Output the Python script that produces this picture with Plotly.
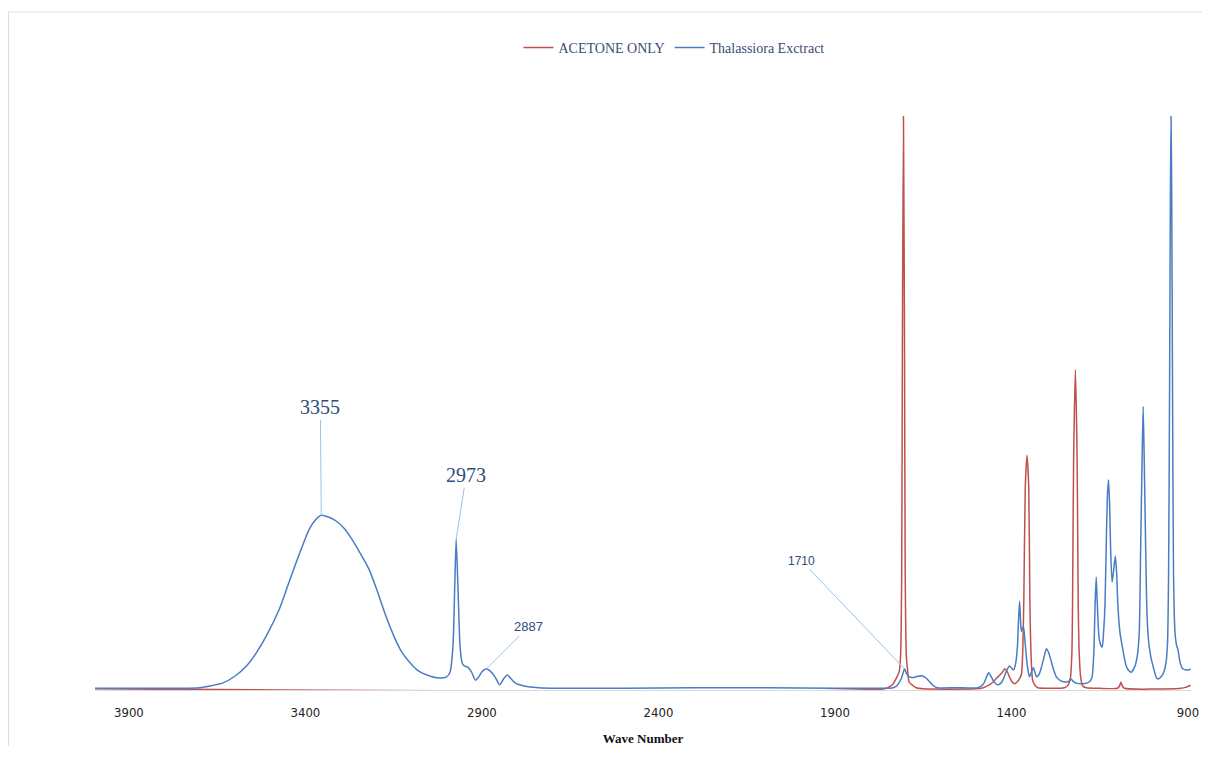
import numpy as np
import plotly.graph_objects as go

# ---------------- data ----------------
series_names = ["ACETONE ONLY", "Thalassiora Exctract"]

thal_wn = [4000, 3850, 3756, 3700, 3635, 3600, 3567, 3540, 3511, 3474, 3450, 3426, 3405, 3389, 3370,
           3355, 3335, 3313, 3290, 3268, 3245, 3220, 3196, 3172, 3150, 3127, 3100, 3079, 3050, 3022,
           3000, 2990, 2982, 2977, 2973, 2968, 2962, 2956, 2950, 2940, 2930, 2918, 2910, 2900, 2887,
           2875, 2862, 2850, 2838, 2828, 2818, 2805, 2780, 2740, 2684, 2500, 2300, 2100, 1900, 1760,
           1735, 1724, 1712, 1707, 1703, 1698, 1692, 1684, 1676, 1666, 1654, 1642, 1630, 1620, 1610,
           1555, 1495, 1480, 1470, 1465, 1458, 1451, 1440, 1430, 1423, 1415, 1406, 1398, 1394, 1388,
           1383, 1380, 1377, 1374, 1372, 1369, 1366, 1362, 1358, 1353, 1349, 1343, 1338, 1334, 1329,
           1322, 1315, 1308, 1301, 1294, 1287, 1280, 1273, 1260, 1245, 1236, 1231, 1225, 1217, 1197,
           1180, 1172, 1167, 1163, 1160, 1157, 1152, 1146, 1143, 1139, 1135, 1131, 1128, 1125, 1122,
           1119, 1115, 1111, 1106, 1102, 1099, 1093, 1085, 1075, 1068, 1061, 1050, 1043, 1038, 1034,
           1030, 1027, 1024, 1020, 1016, 1011, 1005, 997, 990, 985, 975, 968, 962, 958, 955,
           952, 950, 948, 946, 944, 941, 937, 932, 929, 922, 915, 905, 898, 892]
thal_abs = [0.001, 0.001, 0.001, 0.002, 0.010, 0.022, 0.040, 0.062, 0.092, 0.139, 0.180, 0.221, 0.255, 0.279, 0.296,
            0.303, 0.300, 0.293, 0.280, 0.261, 0.237, 0.209, 0.170, 0.127, 0.093, 0.064, 0.043, 0.031, 0.023, 0.019,
            0.021, 0.030, 0.075, 0.179, 0.261, 0.179, 0.075, 0.045, 0.040, 0.038, 0.030, 0.015, 0.020, 0.030, 0.035,
            0.030, 0.020, 0.007, 0.018, 0.024, 0.018, 0.010, 0.005, 0.002, 0.001, 0.001, 0.002, 0.002, 0.001, 0.001,
            0.002, 0.006, 0.018, 0.028, 0.035, 0.028, 0.022, 0.020, 0.020, 0.022, 0.023, 0.019, 0.011, 0.005, 0.002,
            0.002, 0.002, 0.008, 0.022, 0.028, 0.022, 0.014, 0.007, 0.010, 0.017, 0.030, 0.040, 0.035, 0.033, 0.045,
            0.075, 0.120, 0.153, 0.115, 0.100, 0.106, 0.108, 0.085, 0.057, 0.032, 0.021, 0.030, 0.037, 0.030, 0.021,
            0.025, 0.038, 0.055, 0.070, 0.062, 0.047, 0.032, 0.021, 0.014, 0.012, 0.014, 0.017, 0.013, 0.010, 0.009,
            0.012, 0.020, 0.060, 0.150, 0.195, 0.150, 0.090, 0.075, 0.073, 0.100, 0.150, 0.270, 0.340, 0.365, 0.320,
            0.240, 0.186, 0.205, 0.232, 0.200, 0.150, 0.100, 0.070, 0.040, 0.032, 0.029, 0.040, 0.060, 0.100, 0.250,
            0.400, 0.493, 0.400, 0.250, 0.127, 0.080, 0.055, 0.035, 0.020, 0.017, 0.022, 0.030, 0.047, 0.080, 0.200,
            0.550, 0.850, 1.000, 0.850, 0.550, 0.200, 0.100, 0.075, 0.070, 0.045, 0.035, 0.033, 0.033, 0.035]

acet_wn = [4000, 1760, 1745, 1735, 1725, 1718, 1714, 1711, 1709, 1706, 1703, 1701, 1698, 1694, 1690,
           1680, 1670, 1650, 1500, 1480, 1465, 1452, 1443, 1435, 1427, 1419, 1412, 1405, 1398, 1391,
           1384, 1378, 1372, 1369, 1365, 1361, 1356, 1351, 1348, 1344, 1340, 1333, 1325, 1300, 1250,
           1240, 1233, 1229, 1227, 1224, 1219, 1214, 1211, 1208, 1204, 1198, 1188, 1150, 1100, 1094,
           1090, 1086, 1080, 920, 905, 898, 892]
acet_abs = [0.000, 0.000, 0.004, 0.009, 0.020, 0.030, 0.060, 0.200, 0.600, 1.000, 0.600, 0.200, 0.060, 0.030, 0.012,
            0.006, 0.002, 0.000, 0.000, 0.002, 0.006, 0.012, 0.018, 0.023, 0.028, 0.035, 0.030, 0.020, 0.012, 0.009,
            0.012, 0.017, 0.025, 0.050, 0.157, 0.350, 0.408, 0.350, 0.157, 0.050, 0.015, 0.006, 0.002, 0.001, 0.002,
            0.006, 0.020, 0.060, 0.150, 0.400, 0.557, 0.400, 0.150, 0.060, 0.020, 0.005, 0.002, 0.001, 0.001, 0.005,
            0.012, 0.005, 0.001, 0.001, 0.003, 0.005, 0.006]

tick_vals = [3900, 3400, 2900, 2400, 1900, 1400, 900]
tick_text = ["3900", "3400", "2900", "2400", "1900", "1400", "900"]

peak_labels = ["3355", "2973", "2887", "1710"]
peak_wn = [3355, 2973, 2887, 1703]

# ---------------- styling ----------------
RED = "#C0504D"
BLUE = "#4A7CC4"
LEADER = "#9DC3E6"
TXT = "#2E4B7C"

fig = go.Figure()
fig.add_trace(go.Scatter(x=acet_wn, y=acet_abs, mode="lines", name=series_names[0],
                         line=dict(color=RED, width=1.5, shape="spline", smoothing=0.6)))
fig.add_trace(go.Scatter(x=thal_wn, y=thal_abs, mode="lines", name=series_names[1],
                         line=dict(color=BLUE, width=1.5, shape="spline", smoothing=0.6)))

# annotation anchors taken from the blue series
order = np.argsort(thal_wn)
xs = np.array(thal_wn)[order]
ys = np.array(thal_abs)[order]
label_offsets = [(-1, -108), (10, -64), (42, -42), (-103, -108)]
label_fonts = [dict(family="Liberation Serif, Times New Roman, serif", size=20, color=TXT),
               dict(family="Liberation Serif, Times New Roman, serif", size=20, color=TXT),
               dict(family="Liberation Sans Narrow, Liberation Sans, Arial, sans-serif", size=13, color=TXT),
               dict(family="Liberation Sans Narrow, Liberation Sans, Arial, sans-serif", size=12, color=TXT)]
for lab, wn, (ax, ay), fnt in zip(peak_labels, peak_wn, label_offsets, label_fonts):
    yv = float(np.interp(wn, xs, ys))
    fig.add_annotation(x=wn, y=yv, text=lab, showarrow=True, arrowhead=0, arrowwidth=1,
                       arrowcolor=LEADER, ax=ax, ay=ay, font=fnt, standoff=0)

# page is rendered with an 8px body margin, so the figure is offset by (8, 8)
OFF = 8
W, H = 1202, 738
L = 95 - OFF
R = W - (1191 - OFF)
T = 116 - OFF
B = H - (690 - OFF)
pw = W - L - R
ph = H - T - B

def px_x(px):
    return (px - OFF - L) / pw

def px_y(py):
    return (H - B - (py - OFF)) / ph

fig.add_shape(type="rect", xref="paper", yref="paper",
              x0=px_x(8.5), x1=px_x(1215), y0=px_y(755), y1=px_y(12),
              line=dict(color="#D9DEE6", width=1), fillcolor="rgba(0,0,0,0)", layer="below")

fig.update_layout(
    width=W, height=H,
    margin=dict(l=L, r=R, t=T, b=B, pad=0),
    paper_bgcolor="white", plot_bgcolor="white",
    showlegend=True,
    legend=dict(orientation="h", x=px_x(674), xanchor="center",
                y=px_y(48), yanchor="middle",
                font=dict(family="Liberation Serif, Times New Roman, serif", size=14, color="#3A4D74"),
                bgcolor="rgba(0,0,0,0)", itemwidth=30),
    xaxis=dict(range=[3996, 891.5], tickvals=tick_vals, ticktext=tick_text, automargin=False,
               showgrid=False, zeroline=False, showline=True, linecolor="#D9D9D9", linewidth=1,
               ticks="", ticklabelstandoff=10,
               tickfont=dict(family="DejaVu Sans Condensed, Liberation Sans Narrow, Liberation Sans, sans-serif",
                             size=13, color="#222222"),
               title=dict(text="<b>Wave Number</b>", standoff=16,
                          font=dict(family="Liberation Serif, Times New Roman, serif", size=13, color="#111111"))),
    yaxis=dict(range=[-0.002, 1.0], visible=False, showgrid=False, zeroline=False, automargin=False),
)

fig.write_html("out.html")
